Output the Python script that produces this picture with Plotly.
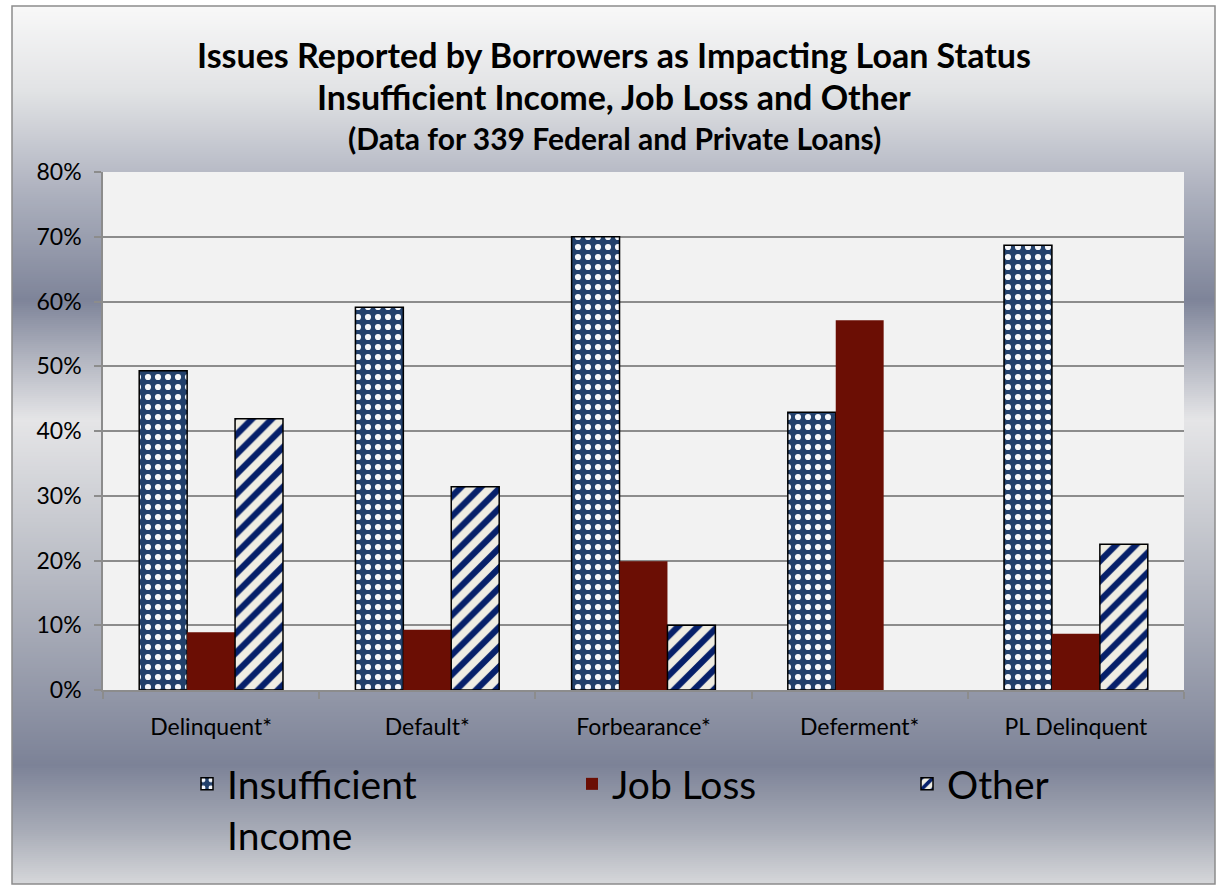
import plotly.graph_objects as go

# ---- data -------------------------------------------------------------
categories = ["Delinquent*", "Default*", "Forbearance*", "Deferment*", "PL Delinquent"]
insufficient_income = [49.3, 59.1, 70.0, 42.9, 68.7]
job_loss = [8.9, 9.3, 19.9, 57.1, 8.7]
other = [41.9, 31.4, 10.0, 0.0, 22.5]
y_ticks = [0, 10, 20, 30, 40, 50, 60, 70, 80]
y_tick_labels = ["0%", "10%", "20%", "30%", "40%", "50%", "60%", "70%", "80%"]

title_lines = [
    "Issues Reported by Borrowers as Impacting Loan Status",
    "Insufficient Income, Job Loss and Other",
    "(Data for 339 Federal and Private Loans)",
]

# ---- canvas geometry (pixels) ----------------------------------------
W, H = 1220, 888
PL, PR, PT, PB = 103, 1184, 172, 690          # plot-area edges
FRAME = (12, 6, 1215, 884)                     # chart frame


def px_x(px):
    return (px - PL) / (PR - PL)


def px_y(py):
    return (PB - py) / (PB - PT)


def hex_to_rgb(h):
    h = h.lstrip("#")
    return tuple(int(h[i:i + 2], 16) for i in (0, 2, 4))


# vertical background gradient stops: (pixel y, colour)
grad_stops = [
    (6, "#f8f8f8"), (90, "#e2e3e5"), (190, "#aeb2bf"), (300, "#7e8499"),
    (360, "#b3b6c1"), (420, "#e5e5e7"), (520, "#c8cad0"), (640, "#a3a7b4"),
    (765, "#7c8297"), (830, "#a7abb6"), (884, "#d6d7da"),
]


def grad_colour(py):
    for (y0, c0), (y1, c1) in zip(grad_stops[:-1], grad_stops[1:]):
        if y0 <= py <= y1:
            t = (py - y0) / (y1 - y0)
            a, b = hex_to_rgb(c0), hex_to_rgb(c1)
            r, g, bl = (round(a[i] + (b[i] - a[i]) * t) for i in range(3))
            return f"rgb({r},{g},{bl})"
    return grad_stops[-1][1]


shapes = []
step = 2
for py in range(FRAME[1], FRAME[3], step):
    shapes.append(dict(
        type="rect", xref="paper", yref="paper", layer="below",
        x0=px_x(FRAME[0]), x1=px_x(FRAME[2]),
        y0=px_y(py), y1=px_y(min(py + step + 0.5, FRAME[3])),
        fillcolor=grad_colour(py + step / 2), line=dict(width=0),
    ))
# plot area background
shapes.append(dict(
    type="rect", xref="paper", yref="paper", layer="below",
    x0=0, x1=1, y0=0, y1=1, fillcolor="#f2f2f2", line=dict(width=0),
))
# chart frame
shapes.append(dict(
    type="rect", xref="paper", yref="paper", layer="below",
    x0=px_x(FRAME[0]), x1=px_x(FRAME[2]), y0=px_y(FRAME[1]), y1=px_y(FRAME[3]),
    fillcolor="rgba(0,0,0,0)", line=dict(color="#8c8c8c", width=1.5),
))

FONT = "Lato, 'Open Sans', sans-serif"


def outline_widths(values, width=1.5):
    # no outline on empty bars
    return [width if v else 0 for v in values]


fig = go.Figure()
fig.add_trace(go.Bar(
    x=categories, y=insufficient_income, name="Insufficient<br>Income",
    legend="legend",
    marker=dict(
        color="#22406b",
        pattern=dict(shape=".", bgcolor="#22406b", fgcolor="#f4f6fa",
                     fgopacity=1, size=10, solidity=0.3),
        line=dict(color="#000000", width=outline_widths(insufficient_income)),
    ),
))
fig.add_trace(go.Bar(
    x=categories, y=job_loss, name="Job Loss", legend="legend2",
    marker=dict(color="#6b0e04", line=dict(width=0)),
))
fig.add_trace(go.Bar(
    x=categories, y=other, name="Other", legend="legend3",
    marker=dict(
        color="#efede3",
        pattern=dict(shape="/", bgcolor="#efede3", fgcolor="#06206a",
                     fgopacity=1, size=14, solidity=0.45),
        line=dict(color="#000000", width=outline_widths(other)),
    ),
))

annotations = []
for text, py, size in zip(title_lines, (55, 97, 138), (34, 34, 30)):
    annotations.append(dict(
        text=f"<b>{text}</b>", xref="paper", yref="paper",
        x=px_x(614), y=px_y(py), xanchor="center", yanchor="middle",
        showarrow=False, font=dict(family=FONT, size=size, color="#000000"),
    ))

legend_common = dict(
    orientation="v", xanchor="left", yanchor="top", valign="top",
    bgcolor="rgba(0,0,0,0)", borderwidth=0,
    font=dict(family=FONT, size=39, color="#000000"),
)

fig.update_layout(
    width=W, height=H,
    margin=dict(l=PL, r=W - PR, t=PT, b=H - PB, pad=0),
    paper_bgcolor="#ffffff",
    plot_bgcolor="#f2f2f2",
    barmode="group", bargap=0.335, bargroupgap=0,
    shapes=shapes, annotations=annotations,
    showlegend=True,
    legend=dict(x=px_x(187), y=px_y(752), **legend_common),
    legend2=dict(x=px_x(572), y=px_y(752), **legend_common),
    legend3=dict(x=px_x(907), y=px_y(752), **legend_common),
    font=dict(family=FONT, color="#000000"),
)
fig.update_xaxes(
    type="category", showline=True, linecolor="#8c8c8c", linewidth=1.5,
    ticks="outside", tickson="boundaries", ticklen=7, tickcolor="#8c8c8c",
    tickwidth=1.5, showgrid=False, tickfont=dict(family=FONT, size=23),
    ticklabelstandoff=16,
)
fig.update_yaxes(
    range=[0, 80], tickmode="array", tickvals=y_ticks, ticktext=y_tick_labels,
    showline=True, linecolor="#8c8c8c", linewidth=1.5,
    ticks="outside", ticklen=7, tickcolor="#8c8c8c", tickwidth=1.5,
    showgrid=True, gridcolor="#8c8c8c", gridwidth=1.5, zeroline=False,
    tickfont=dict(family=FONT, size=23), ticklabelstandoff=8,
)

fig.write_html("out.html")
